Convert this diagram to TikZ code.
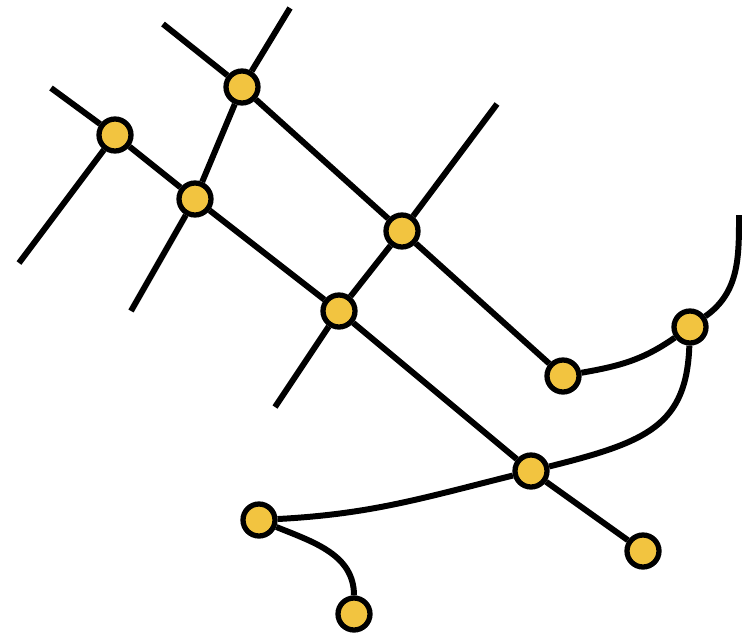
\documentclass[tikz,border=0pt]{standalone}
\usepackage{tikz}
\definecolor{jointyellow}{RGB}{242,196,64}
\tikzset{
    joint/.style={circle, draw=black, fill=jointyellow, line width=3pt, minimum size=0.64cm, inner sep=0pt},
    wire/.style={line width=3.4pt}
}
\begin{document}
\begin{tikzpicture}[x=0.02cm, y=-0.02cm]
        \useasboundingbox (0,0) rectangle (747,636);

        % Free ends
        \coordinate (endA) at (163,24);
        \coordinate (endB) at (51,88);
        \coordinate (endC) at (290,8);
        \coordinate (endD) at (131,311);
        \coordinate (endE) at (19,263);
        \coordinate (endF) at (497,104);
        \coordinate (endG) at (275,407);
        \coordinate (endH) at (739,215);

        % Joints
        \node[joint] (A) at (242,87) {};
        \node[joint] (B) at (115,135) {};
        \node[joint] (C) at (195,199) {};
        \node[joint] (D) at (402,231) {};
        \node[joint] (E) at (339,311) {};
        \node[joint] (F) at (563,376) {};
        \node[joint] (G) at (690,327) {};
        \node[joint] (H) at (531,471) {};
        \node[joint] (I) at (259,520) {};
        \node[joint] (J) at (643,551) {};
        \node[joint] (K) at (354,614) {};

        % Straight lines
        \draw[wire] (endA) -- (A) -- (D) -- (F);
        \draw[wire] (endB) -- (B) -- (C) -- (E) -- (H) -- (J);
        \draw[wire] (endC) -- (A) -- (C) -- (endD);
        \draw[wire] (endE) -- (B);
        \draw[wire] (endF) -- (D) -- (E) -- (endG);

        % Curves
        \draw[wire] (F) to[out=10, in=215] (G) to[out=35, in=270] (endH);
        \draw[wire] (G) to[out=-92, in=14, out looseness=1.1, in looseness=1.4] (H)
            to[out=194, in=3] (I);
        \draw[wire] (I) to[out=-22, in=90] (K);
    \end{tikzpicture}
\end{document}
